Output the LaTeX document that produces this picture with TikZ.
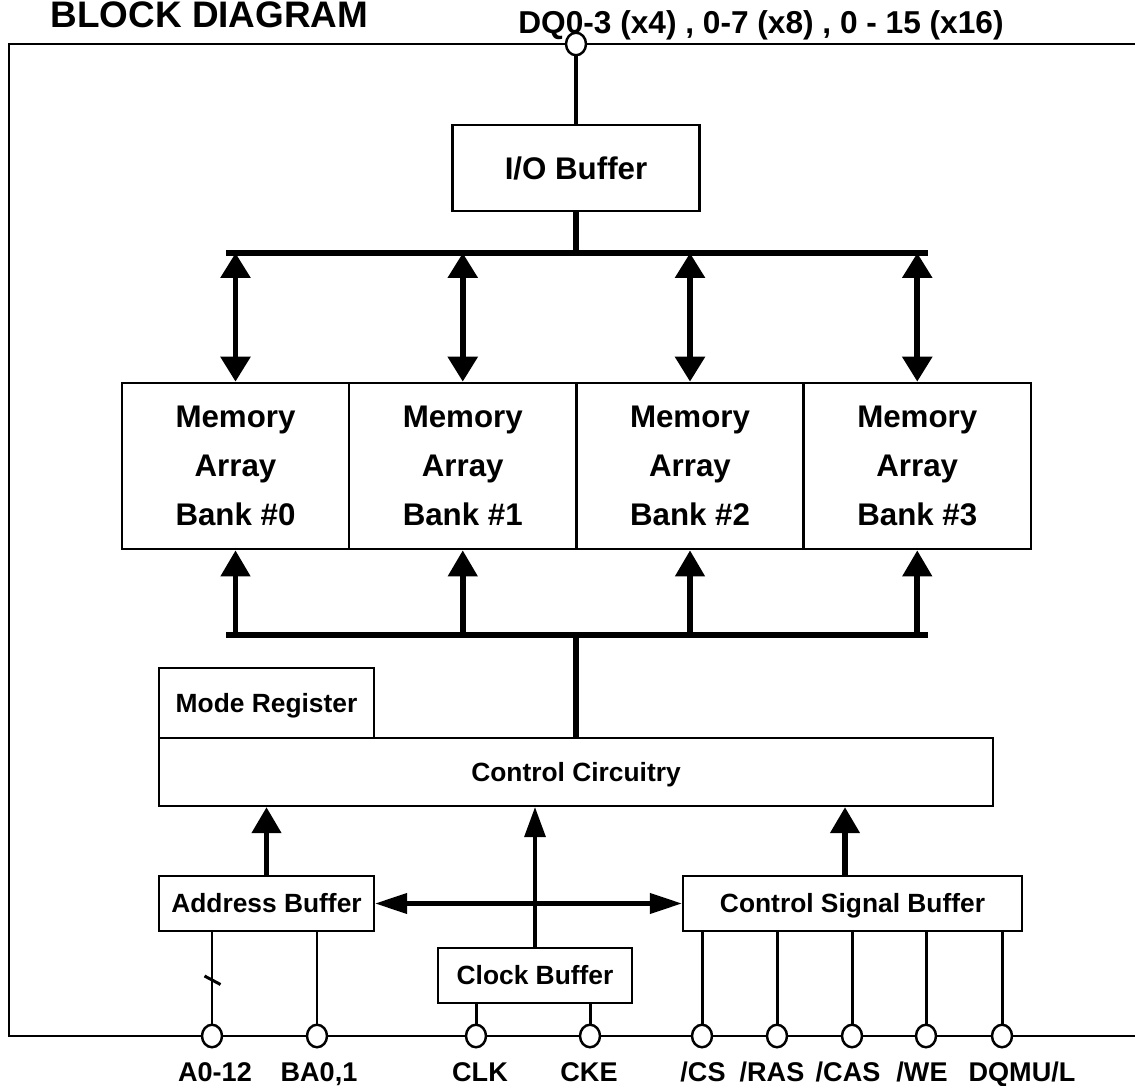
\documentclass[tikz,border=0pt]{standalone}
\usepackage{fontspec}
\setmainfont{Liberation Sans}
\usetikzlibrary{arrows.meta,shapes.geometric}

\begin{document}
\begin{tikzpicture}[
    font=\bfseries,
    block/.style={rectangle, draw, line width=1.3pt, minimum height=1.1cm, inner sep=0pt, text height=10.7pt, text depth=0pt, align=center, font=\fontsize{15}{18}\selectfont\bfseries},
    bank/.style={rectangle, draw, line width=1.5pt, minimum width=4.545cm, minimum height=3.32cm, inner sep=0pt, align=center, font=\fontsize{17.8}{27.8}\selectfont\bfseries},
    pad/.style={ellipse, draw, fill=white, line width=1.4pt, minimum width=0.4cm, minimum height=0.45cm, inner sep=0pt},
    sig/.style={anchor=base, font=\fontsize{15.4}{18}\selectfont\bfseries},
    bus/.style={line width=3.3pt},
    wire/.style={line width=1.7pt},
    arrow/.style={-{Triangle[length=0.52cm, width=0.57cm]}, line width=3.3pt},
    dblarrow/.style={{Triangle[length=0.5cm, width=0.58cm]}-{Triangle[length=0.5cm, width=0.58cm]}, line width=3.3pt},
    hdblarrow/.style={{Triangle[length=0.64cm, width=0.4cm]}-{Triangle[length=0.64cm, width=0.4cm]}, line width=2.4pt},
    thinarrow/.style={-{Triangle[length=0.6cm, width=0.42cm]}, line width=1.9pt},
    ]
    \useasboundingbox (0,0) rectangle (22.7,21.72);

    % Titles
    \node[anchor=base, font=\fontsize{21}{25}\selectfont\bfseries] (title) at (4.19,21.17) {BLOCK DIAGRAM};
    \node[anchor=base, font=\fontsize{18}{22}\selectfont\bfseries] (dqtext) at (15.22,21.04) {DQ0-3 (x4) , 0-7 (x8) , 0 - 15 (x16)};

    % Chip outline
    \draw[line width=1.5pt] (22.7,20.84) -- (0.18,20.84) -- (0.18,1.0) -- (22.7,1.0);

    % I/O side
    \node[pad] (dq) at (11.52,20.84) {};
    \node[block, minimum width=4.94cm, minimum height=1.72cm, text height=12.7pt, font=\fontsize{17.8}{22}\selectfont\bfseries] (io) at (11.52,18.36) {I/O Buffer};
    \coordinate (tbl) at (4.52,16.66);
    \coordinate (tbr) at (18.56,16.66);
    \draw[line width=2.8pt] (dq) -- (io);
    \draw[bus] (io) -- (io |- tbl);
    \draw[bus] (tbl) -- (tbr);

    % Memory banks
    \foreach \i/\x in {0/4.71,1/9.255,2/13.8,3/18.345}
        \node[bank] (b\i) at (\x,12.4) {Memory\\Array\\Bank \#\i};

    % Lower bus
    \coordinate (lbl) at (4.52,9.02);
    \coordinate (lbr) at (18.56,9.02);
    \draw[bus] (lbl) -- (lbr);

    % Arrows - banks
    \foreach \i in {0,...,3} {
        \draw[dblarrow] (b\i.north |- tbl) -- (b\i.north);
        \draw[arrow] (b\i.south |- lbl) -- (b\i.south);
    }

    % Control
    \node[block, minimum width=4.3cm, minimum height=1.4cm] (mr) at (5.33,7.66) {Mode Register};
    \node[block, minimum width=16.68cm, minimum height=1.36cm] (cc) at (11.52,6.28) {Control Circuitry};
    \draw[bus] (cc.north) -- (cc.north |- lbl);

    % Input buffers
    \node[block, minimum width=4.3cm] (ab) at (5.33,3.65) {Address Buffer};
    \node[block, minimum width=6.78cm] (csb) at (17.05,3.65) {Control Signal Buffer};
    \node[block, minimum width=3.88cm] (ckb) at (10.7,2.21) {Clock Buffer};

    \draw[arrow] (ab.north) -- (ab.north |- cc.south);
    \draw[arrow] ([xshift=-0.15cm]csb.north) -- ([xshift=-0.15cm]csb.north |- cc.south);
    \draw[thinarrow] (ckb.north) -- (ckb.north |- cc.south);
    \draw[hdblarrow] (ab.east) -- (csb.west);

    % Pins
    \foreach \n/\x/\b in {a/4.24/ab, ba/6.34/ab, clk/9.52/ckb, cke/11.8/ckb, cs/14.04/csb, ras/15.54/csb, cas/17.04/csb, we/18.52/csb, dqm/20.04/csb} {
        \node[pad] (p\n) at (\x,1.0) {};
        \draw[wire] (p\n) -- (p\n |- \b.south);
    }
    \draw[wire] ([shift={(-0.15,1.2)}]pa.center) -- ([shift={(0.17,1.03)}]pa.center);

    % Pin names
    \foreach \n/\x/\t in {a/4.3/{A0-12}, ba/6.38/{BA0,1}, clk/9.6/{CLK}, cke/11.78/{CKE}, cs/14.06/{/CS}, ras/15.44/{/RAS}, cas/16.96/{/CAS}, we/18.44/{/WE}, dqm/20.44/{DQMU/L}}
        \node[sig] (t\n) at (\x,0.08) {\t};

\end{tikzpicture}
\end{document}
